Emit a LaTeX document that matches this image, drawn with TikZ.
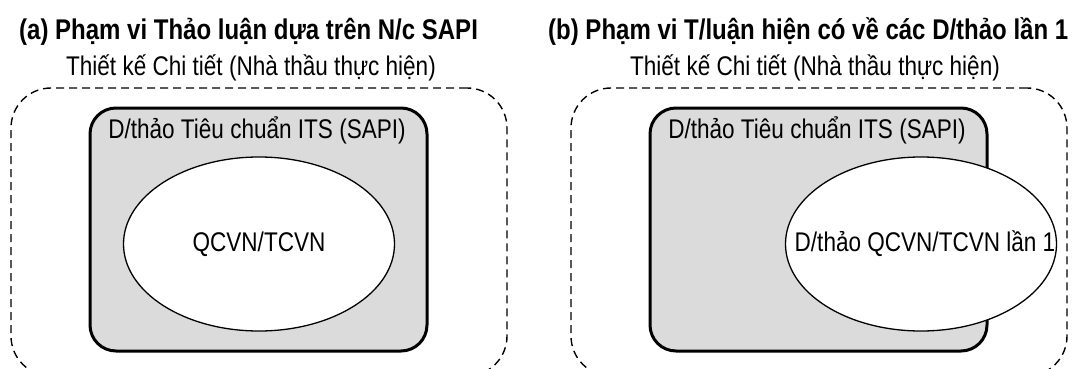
\documentclass[tikz,border=0pt]{standalone}
\usepackage{fontspec}
\setmainfont{Liberation Sans}
\newfontfamily\narrowsans[FakeStretch=0.835]{Liberation Sans}
\newfontfamily\narrowhead[FakeStretch=0.842]{Liberation Sans}
\usetikzlibrary{shapes.geometric}

\begin{document}
\begin{tikzpicture}[x=1pt,y=-1pt,
  headtext/.style={anchor=base west,inner sep=0pt,font=\narrowhead\bfseries\fontsize{28.5}{33}\selectfont},
  plaintext/.style={anchor=base,inner sep=0pt,font=\narrowsans\fontsize{27}{31}\selectfont},
  scopebox/.style={draw,dash pattern=on 8pt off 5pt,line width=1.4pt,rounded corners=40pt,
    minimum width=496pt,minimum height=288pt,inner sep=0pt},
  itsbox/.style={draw,fill=black!14,line width=3pt,rounded corners=26pt,
    minimum width=337pt,minimum height=243pt,inner sep=0pt},
  stdellipse/.style={ellipse,draw,fill=white,line width=1.3pt,minimum width=271pt,
    minimum height=174pt,inner sep=0pt}]
\useasboundingbox (0,0) rectangle (1082,369);
\clip (0,0) rectangle (1082,369);
% (a) left panel
\node[headtext] (titleA) at (19,40) {(a) Phạm vi Thảo luận dựa trên N/c SAPI};
\node[plaintext] (designA) at (251,75) {Thiết kế Chi tiết (Nhà thầu thực hiện)};
\node[scopebox] (scopeA) at (259,232) {};
\node[itsbox] (itsA) at (258.5,229.5) {};
\node[plaintext] (itsA-text) at (257,138) {D/thảo Tiêu chuẩn ITS (SAPI)};
\node[stdellipse] (stdA) at (259,244) {};
\node[plaintext,anchor=center] (stdA-text) at (stdA) {QCVN/TCVN};
% (b) right panel
\node[headtext] (titleB) at (548,40) {(b) Phạm vi T/luận hiện có về các D/thảo lần 1};
\node[plaintext] (designB) at (815,75) {Thiết kế Chi tiết (Nhà thầu thực hiện)};
\node[scopebox] (scopeB) at (819,232) {};
\node[itsbox] (itsB) at (818.5,229.5) {};
\node[plaintext] (itsB-text) at (817,138) {D/thảo Tiêu chuẩn ITS (SAPI)};
\node[stdellipse] (stdB) at (921,244) {};
\node[plaintext,anchor=center] (stdB-text) at ([xshift=4pt]stdB.center) {D/thảo QCVN/TCVN lần 1};
\end{tikzpicture}
\end{document}
